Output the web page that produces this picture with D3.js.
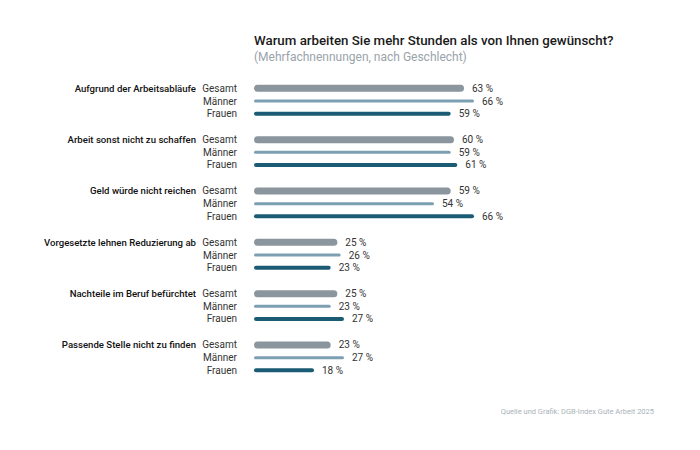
<!DOCTYPE html>
<html>
<head>
<meta charset="utf-8">
<script src="https://cdn.jsdelivr.net/npm/d3@7"></script>
<style>
  body { margin: 0; background: #fff; }
  svg { font-family: "Roboto", "Noto Sans", sans-serif; }
</style>
</head>
<body>
<div class="chart"></div>
<script>
// Gruppierte Balken: Gruende fuer Mehrarbeit, nach Geschlecht

var categories = ["Aufgrund der Arbeitsabläufe", "Arbeit sonst nicht zu schaffen", "Geld würde nicht reichen",
                  "Vorgesetzte lehnen Reduzierung ab", "Nachteile im Beruf befürchtet", "Passende Stelle nicht zu finden"];
var seriesNames = ["Gesamt", "Männer", "Frauen"];
var gesamt = [63, 60, 59, 25, 25, 23];
var maenner = [66, 59, 54, 26, 23, 27];
var frauen = [59, 61, 66, 23, 27, 18];

var width = 700,
	height = 450,
	svg = d3.select(".chart").append("svg")
		.attr("width", width)
		.attr("height", height);

var series = [gesamt, maenner, frauen];
var colors = ["#8a959e", "#7d9fb2", "#1b5b74"];
var thickness = [7, 3, 4];

var x = d3.scaleLinear().domain([0, 66]).range([254, 474]);
var yGroup = d3.scaleBand().domain(categories).range([82, 390]);
var yRow = d3.scaleBand().domain(seriesNames).range([0, 38]);

svg.append("text")
	.attr("x", 254)
	.attr("y", 45)
	.style("font-size", "13.3px")
	.style("font-weight", "500")
	.style("fill", "#1a1a1a")
	.text("Warum arbeiten Sie mehr Stunden als von Ihnen gewünscht?");

svg.append("text")
	.attr("x", 254)
	.attr("y", 61)
	.style("font-size", "12px")
	.style("fill", "#9aa3aa")
	.text("(Mehrfachnennungen, nach Geschlecht)");

var groups = svg.selectAll(".group")
	.data(categories)
	.enter().append("g")
		.attr("class", "group")
		.attr("transform", function(d) { return "translate(0," + yGroup(d) + ")"; });

groups.append("text")
	.attr("x", 196)
	.attr("y", yRow("Gesamt") + yRow.bandwidth() / 2)
	.attr("dy", "0.35em")
	.style("text-anchor", "end")
	.style("font-size", "9.6px")
	.style("font-weight", "500")
	.style("fill", "#111")
	.text(function(d) { return d; });

groups.each(function(cat, ci) {
	var g = d3.select(this);
	seriesNames.forEach(function(s, si) {
		var cy = yRow(s) + yRow.bandwidth() / 2;
		var v = series[si][ci];
		g.append("text")
			.attr("x", 237)
			.attr("y", cy)
			.attr("dy", "0.35em")
			.style("text-anchor", "end")
			.style("font-size", "10px")
			.style("fill", "#333")
			.text(s);
		g.append("rect")
			.attr("x", x(0))
			.attr("y", cy - thickness[si] / 2)
			.attr("width", x(v) - x(0))
			.attr("height", thickness[si])
			.attr("rx", thickness[si] / 2)
			.style("fill", colors[si]);
		g.append("text")
			.attr("x", x(v) + 8)
			.attr("y", cy)
			.attr("dy", "0.35em")
			.style("font-size", "10px")
			.style("fill", "#333")
			.text(v + " %");
	});
});

svg.append("text")
	.attr("x", 654)
	.attr("y", 414)
	.style("text-anchor", "end")
	.style("font-size", "7.5px")
	.style("fill", "#a9b2b9")
	.text("Quelle und Grafik: DGB-Index Gute Arbeit 2025");
</script>
</body>
</html>
